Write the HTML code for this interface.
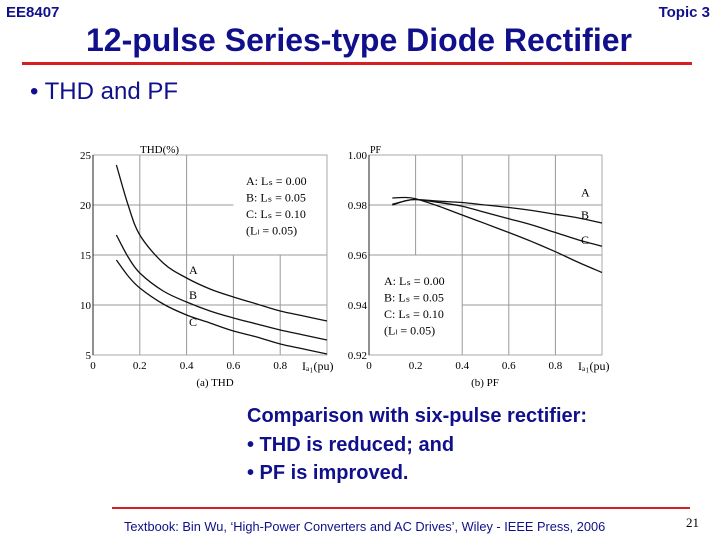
<!DOCTYPE html>
<html><head><meta charset="utf-8"><style>
body{margin:0;width:720px;height:540px;background:#fff;overflow:hidden;font-family:"Liberation Sans",sans-serif;position:relative}
.a{position:absolute;white-space:nowrap}
.blue{color:#10108c;font-weight:bold}
</style></head><body>
<div class="a blue" style="left:6px;top:4px;font-size:15px">EE8407</div>
<div class="a blue" style="right:10px;top:4px;font-size:15px">Topic 3</div>
<div class="a blue" style="left:86px;top:22px;font-size:32px">12-pulse Series-type Diode Rectifier</div>
<div class="a" style="left:22px;top:62px;width:670px;height:3px;background:#d42020"></div>
<div class="a" style="left:30px;top:78px;font-size:24px;color:#10108c">• THD and PF</div>
<svg class="a" style="left:0;top:0" width="720" height="400" id="chart"></svg>
<div class="a blue" style="left:247px;top:405px;font-size:20px">Comparison with six-pulse rectifier:</div>
<div class="a blue" style="left:247px;top:434px;font-size:20px">• THD is reduced; and</div>
<div class="a blue" style="left:247px;top:462px;font-size:20px">• PF is improved.</div>
<div class="a" style="left:112px;top:507px;width:578px;height:2px;background:#d42020"></div>
<div class="a" style="left:124px;top:519px;font-size:12.8px;color:#10108c">Textbook: Bin Wu, ‘High-Power Converters and AC Drives’, Wiley - IEEE Press, 2006</div>
<div class="a" style="left:686px;top:515px;font-size:13px;font-family:'Liberation Serif',serif">21</div>
<script>
const xs=[0.1,0.15,0.2,0.3,0.4,0.5,0.6,0.7,0.8,0.9,1.0];
const thdA=[24,20,17,14.2,12.7,11.6,10.8,10.1,9.4,8.9,8.4];
const thdB=[17,14.8,13.2,11.4,10.3,9.4,8.7,8.1,7.5,7.0,6.5];
const thdC=[14.5,12.9,11.7,10.1,9.0,8.2,7.4,6.8,6.1,5.6,5.1];
const pfA=[0.980,0.9815,0.9822,0.9815,0.981,0.980,0.979,0.9778,0.9763,0.9748,0.9728];
const pfB=[0.9803,0.9815,0.9822,0.981,0.9795,0.977,0.9745,0.972,0.969,0.966,0.9635];
const pfC=[0.9828,0.983,0.9825,0.9795,0.976,0.9725,0.969,0.9653,0.9613,0.957,0.953];
const xTicks=[0,0.2,0.4,0.6,0.8];
const thdTicks=[5,10,15,20,25];
const pfTicks=[0.92,0.94,0.96,0.98,1.00];
const svg=document.getElementById('chart');const NS='http://www.w3.org/2000/svg';
function el(t,a,txt){const e=document.createElementNS(NS,t);for(const k in a)e.setAttribute(k,a[k]);if(txt!=null)e.textContent=txt;svg.appendChild(e);return e;}
const serif='"Liberation Serif",serif';
function smooth(P){let d='M'+P[0][0].toFixed(1)+' '+P[0][1].toFixed(1);
 for(let i=0;i<P.length-1;i++){const p0=P[i-1]||P[i],p1=P[i],p2=P[i+1],p3=P[i+2]||p2;
  const c1=[p1[0]+(p2[0]-p0[0])/6,p1[1]+(p2[1]-p0[1])/6],c2=[p2[0]-(p3[0]-p1[0])/6,p2[1]-(p3[1]-p1[1])/6];
  d+='C'+c1.map(v=>v.toFixed(1)).join(' ')+' '+c2.map(v=>v.toFixed(1)).join(' ')+' '+p2[0].toFixed(1)+' '+p2[1].toFixed(1);}
 return d;}
function panel(x0,pw,yMin,yMax,ticks,fmt,series,labels,leg,grid,name){
 const top=155,bot=355;
 const X=v=>x0+v*pw, Y=v=>bot-(v-yMin)/(yMax-yMin)*(bot-top);
 grid.forEach(g=>{const l=el('line',{x1:X(g[0]),y1:Y(g[1]),x2:X(g[2]),y2:Y(g[3]),stroke:'#999','stroke-width':1});
 });
 const r=el('rect',{x:X(0),y:top,width:pw,height:bot-top,fill:'none',stroke:'#aaa'});
 
 el('line',{x1:X(0),y1:top,x2:X(0),y2:bot,stroke:'#222','stroke-width':1});
 xTicks.forEach(v=>{const t=el('text',{x:X(v),y:bot+14,'font-size':11,'font-family':serif,'text-anchor':'middle'},String(v));
  });
 ticks.forEach(v=>{const t=el('text',{x:X(0)-2,y:Y(v)+4,'font-size':11,'font-family':serif,'text-anchor':'end'},fmt(v));
  });
 series.forEach((s,i)=>{const d=smooth(s.map((v,j)=>[X(xs[j]),Y(v)]));
  const p=el('path',{d:d,fill:'none',stroke:'#111','stroke-width':1.3,'stroke-linejoin':'round'});
  
  const lb=labels[i];const t=el('text',{x:X(lb[0]),y:Y(lb[1]),'font-size':12,'font-family':serif},'ABC'[i]);
  });
 const lg=['A: L\u209B = 0.00','B: L\u209B = 0.05','C: L\u209B = 0.10','(L\u2097 = 0.05)'];
 lg.forEach((s,i)=>{const t=el('text',{x:leg[0],y:leg[1]+i*16.5,'font-size':12,'font-family':serif},s);
  });
}
panel(93,234,5,25,thdTicks,v=>String(v),[thdA,thdB,thdC],[[0.41,13.1],[0.41,10.6],[0.41,7.9]],[246,185],
 [[0.2,5,0.2,25],[0.4,5,0.4,25],[0.6,5,0.6,15],[0.8,5,0.8,15],[0,10,1,10],[0,15,1,15],[0,20,0.6,20]],'thd');
panel(369,233,0.92,1.00,pfTicks,v=>v.toFixed(2),[pfA,pfB,pfC],[[0.91,0.9835],[0.91,0.9745],[0.91,0.9645]],[384,285],
 [[0.2,0.96,0.2,1.0],[0.4,0.92,0.4,1.0],[0.6,0.92,0.6,1.0],[0.8,0.92,0.8,1.0],[0,0.98,1,0.98],[0,0.96,1,0.96],[0.4,0.94,1,0.94]],'pf');
const lbls=[[140,153,'THD(%)',11,'start'],[370,153,'PF',10,'start'],[215,386,'(a) THD',11,'middle'],[485,386,'(b) PF',11,'middle'],[302,370,'I\u2090\u2081(pu)',12,'start'],[578,370,'I\u2090\u2081(pu)',12,'start']];
lbls.forEach(l=>{const t=el('text',{x:l[0],y:l[1],'font-size':l[3],'font-family':serif,'text-anchor':l[4]},l[2]);
 });
</script>
</body></html>
